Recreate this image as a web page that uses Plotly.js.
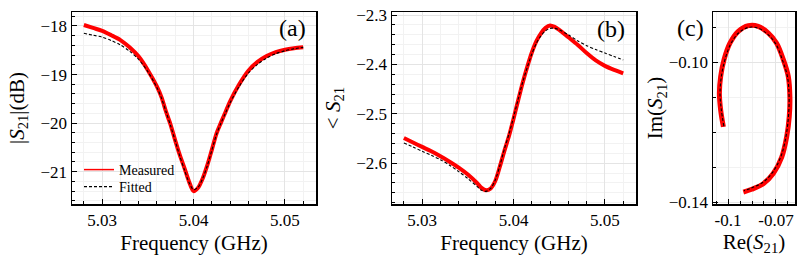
<!DOCTYPE html>
<html>
<head>
<meta charset="utf-8">
<script src="https://cdn.plot.ly/plotly-3.0.1.min.js"></script>
<style>html,body{margin:0;padding:0;background:#fff;}#chart{width:804px;height:256px;}</style>
</head>
<body>
<div id="chart"></div>
<script>
// ---------- data ----------
var freqA = [5.028, 5.029, 5.030, 5.031, 5.032, 5.033, 5.034, 5.035, 5.036, 5.0365, 5.037, 5.0375, 5.038, 5.0385, 5.039, 5.0395, 5.040, 5.0405, 5.041, 5.0415, 5.042, 5.0425, 5.043, 5.0435, 5.044, 5.045, 5.046, 5.047, 5.048, 5.049, 5.050, 5.051, 5.052];
var magMeasured = [-17.98, -18.04, -18.10, -18.19, -18.29, -18.44, -18.63, -18.91, -19.25, -19.47, -19.77, -20.04, -20.36, -20.66, -20.92, -21.20, -21.40, -21.33, -21.14, -20.87, -20.55, -20.22, -19.99, -19.77, -19.55, -19.20, -18.92, -18.74, -18.62, -18.54, -18.49, -18.46, -18.44];
var magFitted = [-18.15, -18.19, -18.23, -18.30, -18.39, -18.52, -18.69, -18.94, -19.27, -19.49, -19.77, -20.06, -20.37, -20.68, -20.96, -21.22, -21.37, -21.32, -21.14, -20.88, -20.56, -20.24, -20.00, -19.79, -19.58, -19.24, -18.97, -18.79, -18.66, -18.57, -18.51, -18.47, -18.44];

var freqB = [5.028, 5.029, 5.030, 5.031, 5.032, 5.033, 5.034, 5.035, 5.036, 5.0365, 5.037, 5.0375, 5.038, 5.0385, 5.039, 5.0395, 5.040, 5.0405, 5.041, 5.0415, 5.042, 5.0425, 5.043, 5.0435, 5.044, 5.0445, 5.045, 5.046, 5.047, 5.048, 5.049, 5.050, 5.051, 5.052];
var phaseMeasured = [-2.549, -2.558, -2.567, -2.576, -2.586, -2.597, -2.609, -2.623, -2.640, -2.650, -2.655, -2.651, -2.636, -2.607, -2.575, -2.545, -2.510, -2.473, -2.437, -2.405, -2.376, -2.353, -2.337, -2.326, -2.321, -2.324, -2.330, -2.345, -2.360, -2.377, -2.392, -2.403, -2.411, -2.418];
var phaseFitted = [-2.559, -2.567, -2.576, -2.584, -2.593, -2.604, -2.617, -2.631, -2.647, -2.655, -2.657, -2.651, -2.634, -2.605, -2.571, -2.541, -2.507, -2.471, -2.436, -2.406, -2.379, -2.357, -2.342, -2.332, -2.327, -2.327, -2.330, -2.340, -2.352, -2.362, -2.370, -2.377, -2.384, -2.391];

var reMeasured = [-0.1029, -0.1046, -0.1054, -0.1046, -0.1025, -0.0988, -0.0936, -0.0873, -0.0811, -0.0748, -0.0696, -0.0654, -0.0623, -0.0613, -0.0617, -0.0633, -0.0664, -0.0717, -0.0779, -0.0852, -0.0904];
var imMeasured = [-0.1185, -0.1137, -0.1089, -0.1041, -0.0993, -0.0946, -0.0912, -0.0896, -0.0898, -0.0917, -0.0946, -0.0993, -0.1041, -0.1099, -0.1156, -0.1213, -0.1271, -0.1318, -0.1347, -0.1363, -0.1371];
var reFitted = [-0.1026, -0.1042, -0.1050, -0.1042, -0.1021, -0.0985, -0.0934, -0.0872, -0.0812, -0.0751, -0.0700, -0.0659, -0.0628, -0.0618, -0.0622, -0.0637, -0.0668, -0.0720, -0.0781, -0.0852, -0.0900];
var imFitted = [-0.1183, -0.1136, -0.1089, -0.1042, -0.0996, -0.0950, -0.0917, -0.0901, -0.0903, -0.0921, -0.0949, -0.0995, -0.1042, -0.1099, -0.1155, -0.1211, -0.1268, -0.1314, -0.1343, -0.1359, -0.1367];

var reTickVals = [-0.1, -0.07];
var reTickText = ["-0.1", "-0.07"];
var imTickVals = [-0.10, -0.14];
var imTickText = ["\u22120.10", "\u22120.14"];

// ---------- style ----------
var FONT = "Liberation Serif, Times New Roman, serif";
var RED = "#ff0000";
var measLine = {color: RED, width: 4, shape: "spline", smoothing: 0.8};
var fitLine = {color: "black", width: 1.1, dash: "3px,2px", shape: "spline", smoothing: 0.8};

var traces = [
  {x: freqA, y: magMeasured, type: "scatter", mode: "lines", name: "Measured", line: measLine, xaxis: "x", yaxis: "y", showlegend: false},
  {x: freqA, y: magFitted, type: "scatter", mode: "lines", name: "Fitted", line: fitLine, xaxis: "x", yaxis: "y", showlegend: false},
  {x: freqB, y: phaseMeasured, type: "scatter", mode: "lines", name: "Measured", line: measLine, xaxis: "x2", yaxis: "y2", showlegend: false},
  {x: freqB, y: phaseFitted, type: "scatter", mode: "lines", name: "Fitted", line: fitLine, xaxis: "x2", yaxis: "y2", showlegend: false},
  {x: reMeasured, y: imMeasured, type: "scatter", mode: "lines", name: "Measured", line: {color: RED, width: 5, shape: "spline", smoothing: 1}, xaxis: "x3", yaxis: "y3", showlegend: false},
  {x: reFitted, y: imFitted, type: "scatter", mode: "lines", name: "Fitted", line: {color: "black", width: 1.1, dash: "3px,2px", shape: "spline", smoothing: 1}, xaxis: "x3", yaxis: "y3", showlegend: false},
  // legend entries (thin sample lines as in the reference)
  {x: [null], y: [null], type: "scatter", mode: "lines", name: "Measured", line: {color: RED, width: 1.5}, xaxis: "x", yaxis: "y", showlegend: true, legend: "legend", hoverinfo: "skip"},
  {x: [null], y: [null], type: "scatter", mode: "lines", name: "Fitted", line: {color: "black", width: 1.1, dash: "3px,2px"}, xaxis: "x", yaxis: "y", showlegend: true, legend: "legend2", hoverinfo: "skip"}
];

function axis(o) {
  var base = {
    showline: true, mirror: true, linecolor: "black", linewidth: 1.5,
    ticks: "inside", ticklen: 5, tickwidth: 1, tickcolor: "black",
    showgrid: true, gridcolor: "#e4e4e4", gridwidth: 1, zeroline: false,
    tickfont: {family: FONT, size: 17, color: "black"},
    automargin: false
  };
  for (var k in o) base[k] = o[k];
  return base;
}
function minor(dt, t0) {
  return {dtick: dt, tick0: t0, ticks: "inside", ticklen: 3, tickwidth: 1, tickcolor: "black", showgrid: true, gridcolor: "#f2f2f2", gridwidth: 1};
}
var titleFont = {family: FONT, size: 21, color: "black"};
var legFont = {family: FONT, size: 14, color: "black"};

var yDom = [52/256, 244/256];
var layout = {
  width: 804, height: 256,
  margin: {l: 0, r: 0, t: 0, b: 0},
  paper_bgcolor: "white", plot_bgcolor: "white",
  font: {family: FONT, color: "black"},
  showlegend: true,
  legend: {x: 79/804, y: (256-170)/256, xanchor: "left", yanchor: "middle", bgcolor: "rgba(0,0,0,0)", borderwidth: 0, font: legFont},
  legend2: {x: 79/804, y: (256-187)/256, xanchor: "left", yanchor: "middle", bgcolor: "rgba(0,0,0,0)", borderwidth: 0, font: legFont},
  xaxis: axis({domain: [72/804, 316/804], anchor: "y", range: [5.0267, 5.0534], dtick: 0.01, tick0: 5.03, minor: minor(0.002, 5.03),
               title: {text: "Frequency (GHz)", font: titleFont, standoff: 6}}),
  yaxis: axis({domain: yDom, anchor: "x", range: [-21.665, -17.712], dtick: 1, tick0: -18, minor: minor(0.2, -18),
               title: {text: "|<i>S</i><sub>21</sub>|(dB)", font: titleFont, standoff: 10}}),
  xaxis2: axis({domain: [392/804, 636/804], anchor: "y2", range: [5.0267, 5.0534], dtick: 0.01, tick0: 5.03, minor: minor(0.002, 5.03),
               title: {text: "Frequency (GHz)", font: titleFont, standoff: 6}}),
  yaxis2: axis({domain: yDom, anchor: "x2", range: [-2.6826, -2.2939], dtick: 0.1, tick0: -2.3, minor: minor(0.02, -2.3),
               title: {text: "&lt; <i>S</i><sub>21</sub>", font: titleFont, standoff: 10}}),
  xaxis3: axis({domain: [713/804, 795/804], anchor: "y3", range: [-0.1094, -0.0581], tickmode: "array", tickvals: reTickVals, ticktext: reTickText, minor: minor(0.0075, -0.1),
               title: {text: "Re(<i>S</i><sub>21</sub>)", font: titleFont, standoff: 6}}),
  yaxis3: axis({domain: yDom, anchor: "x3", range: [-0.1405, -0.0857], tickmode: "array", tickvals: imTickVals, ticktext: imTickText, minor: minor(0.01, -0.10),
               title: {text: "Im(<i>S</i><sub>21</sub>)", font: titleFont, standoff: 0}}),
  annotations: [
    {text: "(a)", xref: "paper", yref: "paper", x: 292/804, y: (256-28)/256, xanchor: "center", yanchor: "middle", showarrow: false, font: {family: FONT, size: 24, color: "black"}},
    {text: "(b)", xref: "paper", yref: "paper", x: 611/804, y: (256-29)/256, xanchor: "center", yanchor: "middle", showarrow: false, font: {family: FONT, size: 24, color: "black"}},
    {text: "(c)", xref: "paper", yref: "paper", x: 690/804, y: (256-27.5)/256, xanchor: "center", yanchor: "middle", showarrow: false, font: {family: FONT, size: 24, color: "black"}}
  ]
};

Plotly.newPlot("chart", traces, layout, {displayModeBar: false, staticPlot: true});
</script>
</body>
</html>
